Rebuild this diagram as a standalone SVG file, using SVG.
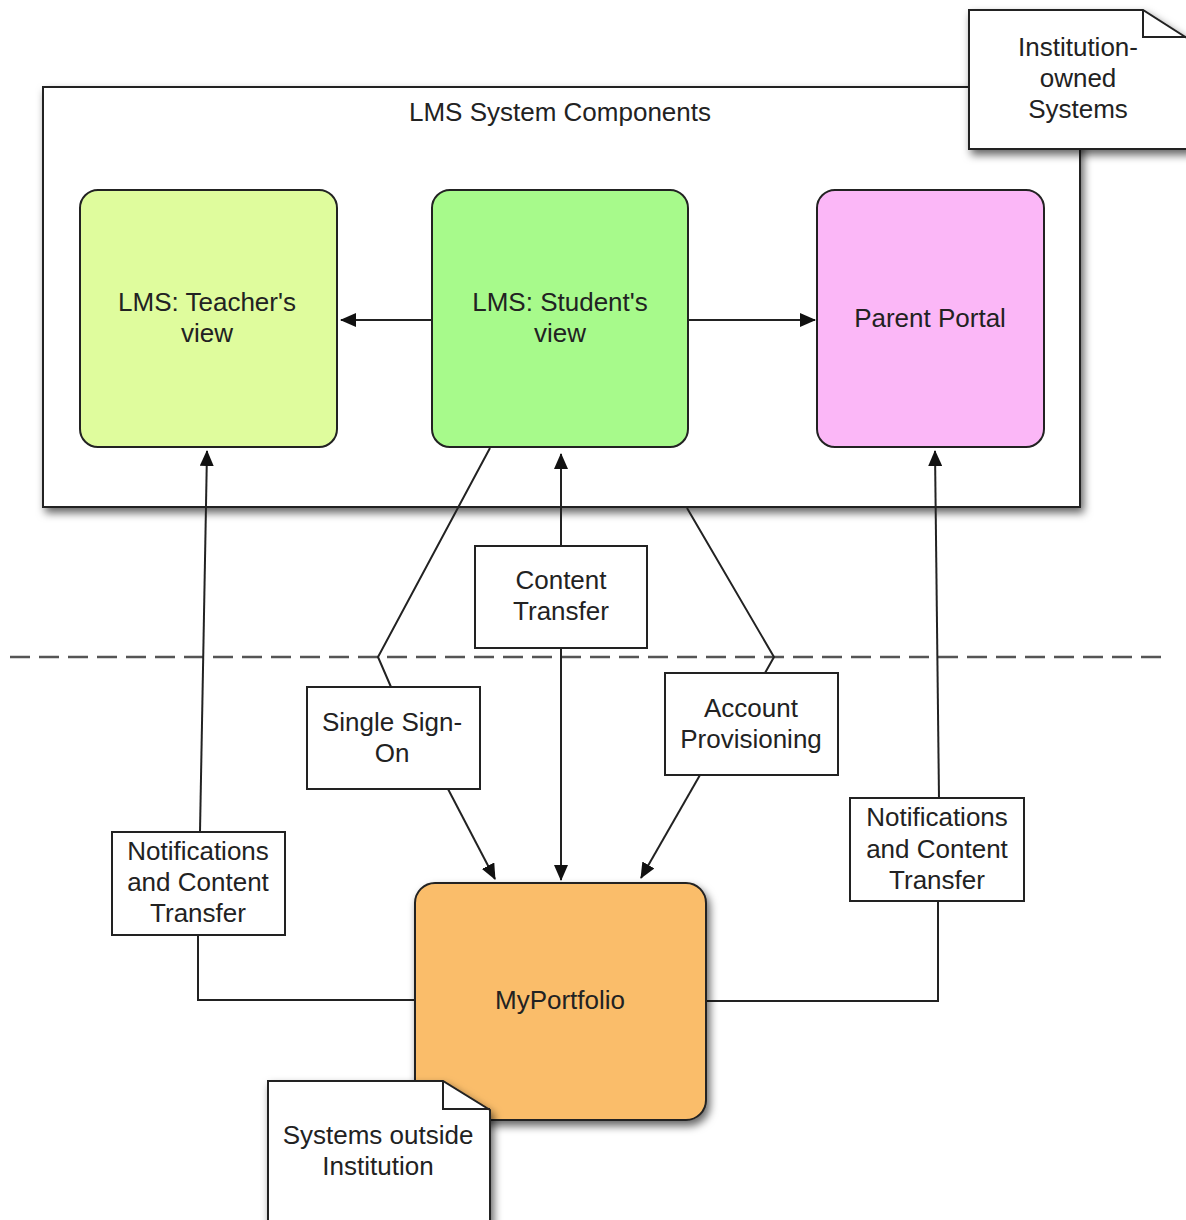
<svg xmlns="http://www.w3.org/2000/svg" width="1186" height="1220" viewBox="0 0 1186 1220">
<defs>
<filter id="sh" x="-10%" y="-10%" width="130%" height="130%">
<feDropShadow dx="3" dy="5" stdDeviation="4" flood-color="#000" flood-opacity="0.6"/>
</filter>
<marker id="ah" markerWidth="16" markerHeight="14" refX="15" refY="7" orient="auto" markerUnits="userSpaceOnUse">
<path d="M0,0 L16,7 L0,14 Z" fill="#111"/>
</marker>
<style>
text{font-family:"Liberation Sans",Arial,sans-serif;font-size:26px;fill:#222;text-anchor:middle}
.box{stroke:#222;stroke-width:2}
.lbl{fill:#fff;stroke:#222;stroke-width:2}
.con{fill:none;stroke:#222;stroke-width:2}
</style>
</defs>
<rect width="1186" height="1220" fill="#fff"/>

<g id="lms-container">
<rect x="43" y="87" width="1037" height="420" fill="#fff" class="box" filter="url(#sh)"/>
<text x="560" y="121">LMS System Components</text>
</g>

<g id="note-institution">
<path d="M969,10 H1143 L1190,40 V149 H969 Z" fill="#fff" class="box" filter="url(#sh)"/>
<path d="M1143,10 V37 H1190" fill="none" class="box"/>
<text x="1078" y="56">Institution-</text>
<text x="1078" y="87">owned</text>
<text x="1078" y="118">Systems</text>
</g>

<g id="teacher">
<rect x="80" y="190" width="257" height="257" rx="18" fill="#dffc9d" class="box"/>
<text x="207" y="311">LMS: Teacher's</text>
<text x="207" y="342">view</text>
</g>

<g id="student">
<rect x="432" y="190" width="256" height="257" rx="18" fill="#a7fa8b" class="box"/>
<text x="560" y="311">LMS: Student's</text>
<text x="560" y="342">view</text>
</g>

<g id="parent">
<rect x="817" y="190" width="227" height="257" rx="18" fill="#fbb7f7" class="box"/>
<text x="930" y="327">Parent Portal</text>
</g>

<g id="connectors">
<line x1="10" y1="657" x2="1170" y2="657" stroke="#555" stroke-width="2.5" stroke-dasharray="20,9"/>
<line x1="432" y1="320" x2="341" y2="320" class="con" marker-end="url(#ah)"/>
<line x1="688" y1="320" x2="815" y2="320" class="con" marker-end="url(#ah)"/>
<line x1="561" y1="546" x2="561" y2="454" class="con" marker-end="url(#ah)"/>
<line x1="561" y1="648" x2="561" y2="880" class="con" marker-end="url(#ah)"/>
<polyline points="490,448 378,657 391,687" class="con"/>
<line x1="448" y1="789" x2="495" y2="879" class="con" marker-end="url(#ah)"/>
<polyline points="687,508 774,657 765,673" class="con"/>
<line x1="700" y1="775" x2="641" y2="878" class="con" marker-end="url(#ah)"/>
<line x1="200" y1="832" x2="207" y2="451" class="con" marker-end="url(#ah)"/>
<polyline points="198,935 198,1000 415,1000" class="con"/>
<line x1="939" y1="798" x2="935" y2="451" class="con" marker-end="url(#ah)"/>
<polyline points="938,901 938,1001 706,1001" class="con"/>
</g>

<g id="label-content">
<rect x="475" y="546" width="172" height="102" class="lbl"/>
<text x="561" y="589">Content</text>
<text x="561" y="620">Transfer</text>
</g>

<g id="label-sso">
<rect x="307" y="687" width="173" height="102" class="lbl"/>
<text x="392" y="731">Single Sign-</text>
<text x="392" y="762">On</text>
</g>

<g id="label-account">
<rect x="665" y="673" width="173" height="102" class="lbl"/>
<text x="751" y="717">Account</text>
<text x="751" y="748">Provisioning</text>
</g>

<g id="label-notif-left">
<rect x="112" y="832" width="173" height="103" class="lbl"/>
<text x="198" y="860">Notifications</text>
<text x="198" y="891">and Content</text>
<text x="198" y="922">Transfer</text>
</g>

<g id="label-notif-right">
<rect x="850" y="798" width="174" height="103" class="lbl"/>
<text x="937" y="826">Notifications</text>
<text x="937" y="858">and Content</text>
<text x="937" y="889">Transfer</text>
</g>

<g id="myportfolio">
<rect x="415" y="883" width="291" height="237" rx="20" fill="#fabd6b" class="box" filter="url(#sh)"/>
<text x="560" y="1009">MyPortfolio</text>
</g>

<g id="note-outside">
<path d="M268,1081 H443 L490,1110 V1230 H268 Z" fill="#fff" class="box" filter="url(#sh)"/>
<path d="M443,1081 V1109 H490" fill="none" class="box"/>
<text x="378" y="1144">Systems outside</text>
<text x="378" y="1175">Institution</text>
</g>
</svg>
